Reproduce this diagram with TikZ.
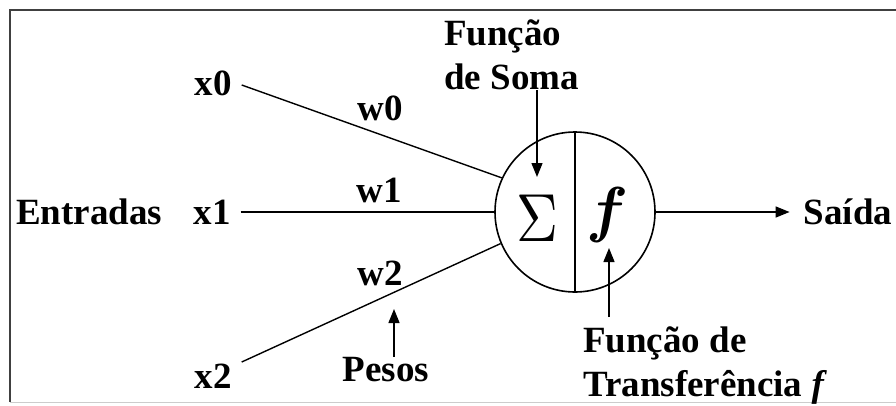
\documentclass[tikz,border=0pt]{standalone}
\usepackage{fontspec}
\setmainfont{Liberation Serif}
\usetikzlibrary{arrows.meta}
\tikzset{
  lbl/.style={font=\fontsize{37}{44}\selectfont\bfseries},
  inp/.style={lbl, inner sep=10pt},
  conn/.style={line width=1.4pt},
  tip/.style={-{Triangle[length=14pt,width=11pt]}, line width=1.4pt},
}

\begin{document}
\begin{tikzpicture}[x=1pt, y=-1pt]
    \useasboundingbox (0,0) rectangle (896,405);
    % Frame (open on the right)
    \draw[line width=1.6pt, black!75] (896,10) -- (10,10) -- (10,402);
    \draw[line width=1pt, black!20] (10,402.5) -- (896,402.5);

    % Neuron
    \node[draw, circle, line width=1.6pt, minimum size=160pt, inner sep=0] (neuron) at (575,212) {};
    \draw[line width=1.4pt] (neuron.north) -- (neuron.south);
    \node (sigma) at (537,218) {\scalebox{5.8}[6.8]{$\Sigma$}};
    \node (fnc) at (608,215) {\scalebox{6.2}{\boldmath$f$}};

    % Inputs
    \node[lbl] (entradas) at (89,212) {Entradas};
    \node[inp] (x0) at (213,83) {x0};
    \node[inp] (x1) at (212,212) {x1};
    \node[inp] (x2) at (213,376) {x2};
    \draw[conn] ([yshift=-2pt]x0.east) -- (neuron.155);
    \draw[conn] (x1.east) -- (neuron.west);
    \draw[conn] ([yshift=14pt]x2.east) -- (neuron.203);

    % Weights
    \node[lbl] (w0) at (380,108) {w0};
    \node[lbl] (w1) at (379,190) {w1};
    \node[lbl] (w2) at (380,273) {w2};
    \node[lbl, inner sep=1pt] (pesos) at (386,370) {Pesos};
    \coordinate (wtip) at (394,309);
    \draw[tip] (pesos.north -| wtip) -- (wtip);

    % Summation label
    \node[lbl, align=left, inner sep=0, anchor=south west] (soma) at (444,90) {Função\\de Soma};
    \coordinate (sigtip) at (537,177);
    \draw[tip] (soma.south -| sigtip) -- (sigtip);

    % Transfer label
    \node[lbl, align=left, inner sep=0, anchor=north west] (transf) at (583,327) {Função de\\Transferência \textit{f}};
    \coordinate (ftip) at (609,248);
    \draw[tip, shorten <=10pt] (transf.north -| ftip) -- (ftip);

    % Output
    \node[lbl, inner sep=14pt] (saida) at (848,212) {Saída};
    \draw[tip] (neuron.east) -- (saida.west);
\end{tikzpicture}
\end{document}
